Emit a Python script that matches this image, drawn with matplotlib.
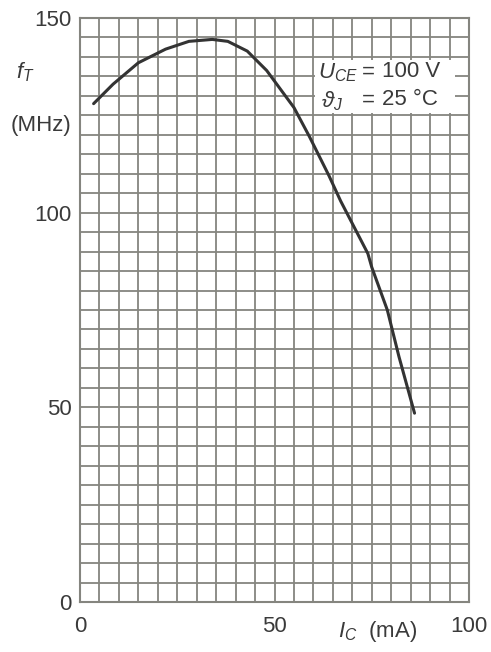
import matplotlib
matplotlib.use('Agg')
import matplotlib.pyplot as plt
from matplotlib.patches import Rectangle
import numpy as np

# transition frequency vs collector current
ic_ma = [3.5, 8.5, 15, 22, 28, 34, 38, 43, 48, 55, 59, 64, 67, 74, 75, 79, 82, 86]
ft_mhz = [128, 133, 138.5, 142, 144, 144.5, 144, 141.5, 136.5, 127, 119.5, 109.5, 103, 89.5, 86, 75, 63, 48.5]

x_ticks = [0, 50, 100]
y_ticks = [0, 50, 100, 150]

plt.rcParams['font.family'] = ['Liberation Sans', 'DejaVu Sans']
plt.rcParams['mathtext.fontset'] = 'custom'
plt.rcParams['mathtext.it'] = 'Liberation Sans:italic'
plt.rcParams['mathtext.rm'] = 'Liberation Sans'
grid_color = '#85857f'
text_color = '#3a3a3a'

fig = plt.figure(figsize=(4.91, 6.52), dpi=100)
ax = fig.add_axes([80 / 491, 50 / 652, 389 / 491, 584 / 652])

ax.set_xlim(0, 100)
ax.set_ylim(0, 150)

# 5 mA / 5 MHz grid
for gx in np.arange(0, 101, 5):
    ax.axvline(gx, color=grid_color, lw=1.3, zorder=1)
for gy in np.arange(0, 151, 5):
    ax.axhline(gy, color=grid_color, lw=1.3, zorder=1)

for s in ax.spines.values():
    s.set_color(grid_color)
    s.set_linewidth(1.5)

ax.plot(ic_ma, ft_mhz, color='#333333', lw=2.2, solid_capstyle='round', zorder=3)

ax.set_xticks(x_ticks)
ax.set_yticks(y_ticks)
ax.tick_params(length=0, labelsize=16, labelcolor=text_color)
ax.tick_params(axis='y', pad=6)
ax.tick_params(axis='x', pad=10)

# operating conditions, on a white patch over the grid
ax.add_patch(Rectangle((0.604, 0.837), 0.36, 0.091, transform=ax.transAxes,
                       facecolor='white', edgecolor='none', zorder=4))
cond_kw = dict(transform=ax.transAxes, fontsize=16, color=text_color, va='center', zorder=5)
ax.text(0.612, 0.906, r'$U_{CE}$', ha='left', **cond_kw)
ax.text(0.724, 0.908, '=', ha='left', **cond_kw)
ax.text(0.776, 0.908, '100 V', ha='left', **cond_kw)
ax.text(0.620, 0.858, r'$\vartheta_J$', ha='left', **cond_kw)
ax.text(0.724, 0.860, '=', ha='left', **cond_kw)
ax.text(0.776, 0.860, '25 °C', ha='left', **cond_kw)

fig.text(25 / 491, 1 - 72 / 652, r'$f_T$', fontsize=16, color=text_color, ha='center', va='center')
fig.text(41 / 491, 1 - 126 / 652, '(MHz)', fontsize=16, color=text_color, ha='center', va='center')
fig.text(378 / 491, 1 - 632 / 652, r'$I_C$  (mA)', fontsize=16, color=text_color, ha='center', va='center')

fig.savefig('out.png', dpi=100, facecolor='white')
